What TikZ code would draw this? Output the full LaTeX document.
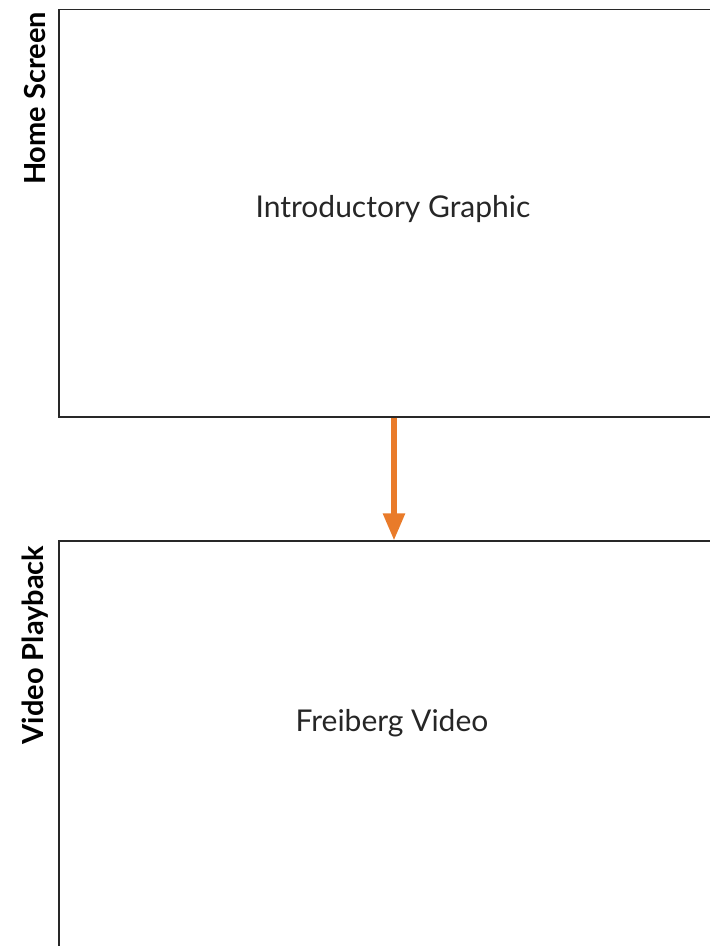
\documentclass[tikz,border=0pt]{standalone}
\usepackage{fontspec}
\setmainfont{Lato}
\usetikzlibrary{arrows.meta}
\definecolor{arroworange}{RGB}{233,123,42}
\definecolor{linegray}{RGB}{40,40,40}
\begin{document}
\begin{tikzpicture}[x=1pt,y=-1pt,
  panel/.style={draw=linegray,line width=1.2pt,rectangle,minimum width=670pt,minimum height=407.5pt,inner sep=0pt},
  title/.style={font=\fontsize{30}{34}\selectfont,text=black!85},
  sidelabel/.style={font=\bfseries\fontsize{29}{32}\selectfont,rotate=90,text=black},
  flow/.style={draw=arroworange,line width=5.5pt,-{Triangle[width=21pt,length=27pt]}}]
\useasboundingbox (0,0) rectangle (710,946);
\clip (0,0) rectangle (710,946);
\node[panel] (home) at (394,213.25) {};
\node[panel] (video) at (394,744.75) {};
\node[title] (intro) at (393,209) {Introductory Graphic};
\node[title] (frei) at (392,723) {Freiberg Video};
\node[sidelabel] (homelab) at (35,98.5) {Home Screen};
\node[sidelabel] (videolab) at (35,645) {Video Playback};
\draw[flow] (home.south) -- (video.north);
\end{tikzpicture}
\end{document}
